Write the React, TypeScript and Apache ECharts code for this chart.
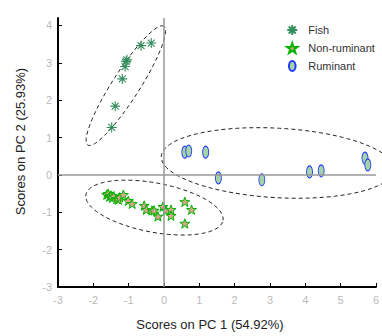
import React, { useEffect, useRef } from "react";
import * as echarts from "echarts";

const fishX = [-1.48, -1.38, -1.18, -1.1, -1.07, -1.05, -0.65, -0.36];
const fishY = [1.27, 1.84, 2.57, 2.9, 3.04, 3.08, 3.46, 3.53];

const nonRumX = [-1.62, -1.58, -1.54, -1.5, -1.46, -1.42, -1.34, -1.29, -1.25, -1.15, -1.01, -0.9, -0.56, -0.5, -0.34, -0.28, -0.17, -0.03, 0.06, 0.2, 0.2, 0.59, 0.78, 0.59];
const nonRumY = [-0.53, -0.5, -0.58, -0.55, -0.61, -0.57, -0.64, -0.66, -0.6, -0.53, -0.69, -0.77, -0.82, -0.93, -0.95, -0.95, -1.11, -0.85, -0.95, -0.93, -1.09, -0.72, -0.93, -1.3];

const rumX = [0.59, 0.7, 1.18, 1.54, 2.77, 4.12, 4.45, 5.69, 5.77];
const rumY = [0.61, 0.64, 0.61, -0.08, -0.13, 0.08, 0.11, 0.45, 0.27];

// confidence ellipses: centre, semi-axes, rotation (deg) in data units
const ellCX = [-1.08, 3.22, -0.27];
const ellCY = [2.39, 0.32, -0.875];
const ellA = [1.92, 3.3, 1.97];
const ellB = [0.38, 0.93, 0.66];
const ellAngle = [55.8, -3, -10];

const xTicks = [-3, -2, -1, 0, 1, 2, 3, 4, 5, 6];
const yTicks = [-3, -2, -1, 0, 1, 2, 3, 4];

const seriesNames = ["Fish", "Non-ruminant", "Ruminant"];

const STAR = "path://M0,-10L2.35,-3.24L9.51,-3.09L3.8,1.24L5.88,8.09L0,4L-5.88,8.09L-3.8,1.24L-9.51,-3.09L-2.35,-3.24Z";
const ASTER = "path://M0,-10L0,10M-10,0L10,0M-7,-7L7,7M-7,7L7,-7";
const ELLIPSE = "path://M0,-6A4,6,0,1,1,0,6A4,6,0,1,1,0,-6Z";

const FONT = "Liberation Sans, Arial, sans-serif";

export default function App() {
  const ref = useRef<HTMLDivElement>(null);
  useEffect(() => {
    if (!ref.current) return;
    const chart = echarts.init(ref.current, undefined, { renderer: "svg" });
    const zip = (xs: number[], ys: number[]) => xs.map((x, i) => [x, ys[i]]);
    const ellData = ellCX.map((c, i) => [c, ellCY[i], ellA[i], ellB[i], ellAngle[i]]);
    chart.setOption({
      animation: false,
      backgroundColor: "#fff",
      textStyle: { fontFamily: FONT },
      grid: { left: 58, top: 18, right: 2, bottom: 46, containLabel: false },
      legend: {
        data: seriesNames,
        orient: "vertical",
        left: 286,
        top: 24,
        itemWidth: 22,
        itemHeight: 10,
        itemGap: 6,
        padding: 0,
        textStyle: { fontSize: 11, color: "#333", fontFamily: FONT },
      },
      xAxis: {
        type: "value",
        min: -3,
        max: 6,
        interval: 1,
        name: "Scores on PC 1 (54.92%)",
        nameLocation: "middle",
        nameGap: 31,
        nameTextStyle: { fontSize: 13, color: "#222", fontFamily: FONT, padding: [0, 14, 0, 0] },
        axisLine: { onZero: false, lineStyle: { color: "#000", width: 2 } },
        axisTick: { inside: true, length: 4, lineStyle: { color: "#000", width: 1 }, customValues: xTicks },
        axisLabel: { color: "#bbb", fontSize: 11, margin: 7, customValues: xTicks, fontFamily: FONT },
        splitLine: { show: false },
      },
      yAxis: {
        type: "value",
        min: -3,
        max: 4.2,
        interval: 1,
        name: "Scores on PC 2 (25.93%)",
        nameLocation: "middle",
        nameGap: 31,
        nameTextStyle: { fontSize: 13, color: "#222", fontFamily: FONT, padding: [0, 0, 0, 22] },
        axisLine: { show: true, onZero: false, lineStyle: { color: "#000", width: 2 } },
        axisTick: { show: true, inside: true, length: 4, lineStyle: { color: "#000", width: 1 }, customValues: yTicks },
        axisLabel: { color: "#bbb", fontSize: 11, margin: 6, customValues: yTicks, fontFamily: FONT },
        splitLine: { show: false },
      },
      series: [
        {
          type: "custom",
          name: "ellipses",
          silent: true,
          z: 1,
          data: ellData,
          encode: { x: 0, y: 1 },
          renderItem: (params: any, api: any) => {
            const cx = api.value(0), cy = api.value(1), a = api.value(2), b = api.value(3);
            const ang = (api.value(4) * Math.PI) / 180;
            const pts: number[][] = [];
            const N = 120;
            for (let i = 0; i <= N; i++) {
              const t = (2 * Math.PI * i) / N;
              const x = cx + a * Math.cos(t) * Math.cos(ang) - b * Math.sin(t) * Math.sin(ang);
              const y = cy + a * Math.cos(t) * Math.sin(ang) + b * Math.sin(t) * Math.cos(ang);
              pts.push(api.coord([x, y]));
            }
            return {
              type: "polyline",
              shape: { points: pts },
              style: { fill: "none", stroke: "#222", lineWidth: 1, lineDash: [4, 3] },
            };
          },
          markLine: {
            silent: true,
            symbol: "none",
            label: { show: false },
            lineStyle: { color: "#999", width: 1.5, type: "solid" },
            data: [{ xAxis: 0 }, { yAxis: 0 }],
          },
        },
        {
          type: "scatter",
          name: "Fish",
          z: 3,
          symbol: ASTER,
          symbolSize: 10,
          symbolKeepAspect: true,
          itemStyle: { color: "rgba(0,0,0,0)", borderColor: "#358d5e", borderWidth: 1.1, opacity: 1 },
          data: zip(fishX, fishY),
        },
        {
          type: "scatter",
          name: "Non-ruminant",
          z: 3,
          symbol: STAR,
          symbolSize: 10,
          symbolKeepAspect: true,
          itemStyle: { color: "#d9a58c", borderColor: "#00b400", borderWidth: 1, opacity: 1 },
          data: zip(nonRumX, nonRumY),
        },
        {
          type: "scatter",
          name: "Ruminant",
          z: 3,
          symbol: ELLIPSE,
          symbolSize: [9, 12],
          symbolKeepAspect: true,
          itemStyle: { color: "#a6d3a6", borderColor: "#1f3cff", borderWidth: 1, opacity: 1 },
          data: zip(rumX, rumY),
        },
      ],
    });
    return () => chart.dispose();
  }, []);
  return (
    <div
      ref={ref}
      style={{ position: "fixed", left: 0, top: 0, width: 382, height: 336, background: "#fff" }}
    />
  );
}
